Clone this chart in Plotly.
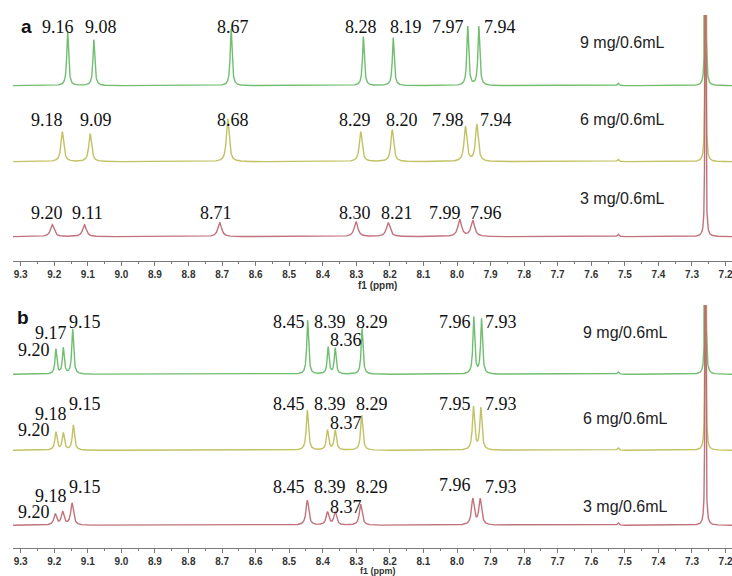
import numpy as np
import plotly.graph_objects as go

# ---------------- data ----------------
# Panel a : peak shifts (ppm) and peak heights (arbitrary units) for each concentration
A_9_shift = [9.160, 9.082, 8.673, 8.279, 8.190, 7.968, 7.935]
A_9_height = [54, 46, 57, 49, 48, 59, 59]
A_6_shift = [9.176, 9.093, 8.683, 8.287, 8.193, 7.975, 7.941]
A_6_height = [30, 28, 43, 30, 32, 35, 37]
A_3_shift = [9.206, 9.110, 8.707, 8.301, 8.205, 7.992, 7.953]
A_3_height = [12, 12, 14, 15, 14, 17, 16]

A_9_labels = ["9.16", "9.08", "8.67", "8.28", "8.19", "7.97", "7.94"]
A_6_labels = ["9.18", "9.09", "8.68", "8.29", "8.20", "7.98", "7.94"]
A_3_labels = ["9.20", "9.11", "8.71", "8.30", "8.21", "7.99", "7.96"]

# Panel b
B_9_shift = [9.195, 9.173, 9.145, 8.445, 8.384, 8.363, 8.283, 7.950, 7.927]
B_9_height = [25, 26, 45, 54, 27, 26, 46, 57, 55]
B_6_shift = [9.195, 9.173, 9.143, 8.446, 8.386, 8.363, 8.284, 7.951, 7.929]
B_6_height = [18, 17, 25, 40, 20, 20, 35, 43, 42]
B_3_shift = [9.197, 9.175, 9.147, 8.446, 8.386, 8.363, 8.287, 7.953, 7.931]
B_3_height = [11, 13, 22, 25, 13, 13, 21, 26, 26]

B_9_labels = ["9.20", "9.17", "9.15", "8.45", "8.39", "8.36", "8.29", "7.96", "7.93"]
B_6_labels = ["9.20", "9.18", "9.15", "8.45", "8.39", "8.37", "8.29", "7.95", "7.93"]
B_3_labels = ["9.20", "9.18", "9.15", "8.45", "8.39", "8.37", "8.29", "7.96", "7.93"]

# common small signals: impurity at 7.52 and solvent (CDCl3) at 7.26
extra_shift = [7.52, 7.26]
extra_height = [2.5, 1500]

concentrations = ["9 mg/0.6mL", "6 mg/0.6mL", "3 mg/0.6mL"]

# ---------------- styling / layout constants ----------------
colors = ["#62b862", "#bcbc55", "#bb6470"]
offsets_a = [175, 99, 24]
offsets_b = [174, 98, 23]
hwhm_a = [0.0032, 0.0048, 0.0065]
hwhm_b = [0.0032, 0.0038, 0.0048]
solvent_hwhm = 0.0006

X_RANGE = [9.3229, 7.1808]
grid = np.arange(X_RANGE[1], X_RANGE[0], 0.00025)
grid = np.sort(np.concatenate([grid, extra_shift]))[::-1]


def spectrum(shifts, heights, w, offset):
    y = np.full_like(grid, float(offset))
    for s, h in zip(shifts, heights):
        y += h * w * w / ((grid - s) ** 2 + w * w)
    y += extra_height[0] * 0.003 ** 2 / ((grid - extra_shift[0]) ** 2 + 0.003 ** 2)
    y += extra_height[1] * solvent_hwhm ** 2 / ((grid - extra_shift[1]) ** 2 + solvent_hwhm ** 2)
    return y


fig = go.Figure()

panel_a = [(A_9_shift, A_9_height), (A_6_shift, A_6_height), (A_3_shift, A_3_height)]
panel_b = [(B_9_shift, B_9_height), (B_6_shift, B_6_height), (B_3_shift, B_3_height)]

for i, (s, h) in enumerate(panel_a):
    fig.add_trace(go.Scatter(x=grid, y=spectrum(s, h, hwhm_a[i], offsets_a[i]), mode="lines",
                             line=dict(color=colors[i], width=1.4), xaxis="x", yaxis="y",
                             opacity=0.9, showlegend=False, hoverinfo="skip"))
for i, (s, h) in enumerate(panel_b):
    fig.add_trace(go.Scatter(x=grid, y=spectrum(s, h, hwhm_b[i], offsets_b[i]), mode="lines",
                             line=dict(color=colors[i], width=1.4), xaxis="x2", yaxis="y2",
                             opacity=0.9, showlegend=False, hoverinfo="skip"))

serif = dict(family="Liberation Serif, Times New Roman, serif", size=18, color="#111")
sans = dict(family="Liberation Sans, Arial, sans-serif", size=16, color="#222")

annotations = []


def add_labels(labels, xs, ys, xref, yref):
    for t, x, y in zip(labels, xs, ys):
        annotations.append(dict(text=t, x=x, y=y, xref=xref, yref=yref, showarrow=False,
                                font=serif, xanchor="center", yanchor="middle"))


# label positions (ppm, y units) for panel a
add_labels(A_9_labels, [9.189, 9.061, 8.667, 8.286, 8.152, 8.027, 7.872], [234] * 7, "x", "y")
add_labels(A_6_labels, [9.222, 9.077, 8.667, 8.304, 8.164, 8.027, 7.884], [141] * 7, "x", "y")
add_labels(A_3_labels, [9.222, 9.102, 8.718, 8.304, 8.179, 8.036, 7.914], [47.5] * 7, "x", "y")

# panel b
bx = [9.260, 9.210, 9.108, 8.500, 8.378, 8.331, 8.253, 8.006, 7.869]
add_labels(B_9_labels, bx, [198.3, 215, 226, 226.3, 226.3, 208.3, 226.3, 226.3, 226.3], "x2", "y2")
add_labels(B_6_labels, bx, [118.5, 134, 144, 144, 144, 125, 144, 144.5, 144], "x2", "y2")
add_labels(B_3_labels, bx, [36.6, 52.3, 61.6, 61.6, 61.6, 41.6, 61.3, 63.3, 61.3], "x2", "y2")

for txt, y in zip(concentrations, [218, 140.7, 62.4]):
    annotations.append(dict(text=txt, x=7.508, y=y, xref="x", yref="y", showarrow=False,
                            font=sans, xanchor="center", yanchor="middle"))
for txt, y in zip(concentrations, [215.6, 130, 41.6]):
    annotations.append(dict(text=txt, x=7.498, y=y, xref="x2", yref="y2", showarrow=False,
                            font=sans, xanchor="center", yanchor="middle"))

# panel letters
annotations.append(dict(text="<b>a</b>", x=0.019, y=0.9536, xref="paper", yref="paper", showarrow=False,
                        font=dict(family="Liberation Sans, Arial", size=19, color="#111"),
                        xanchor="center", yanchor="middle"))
annotations.append(dict(text="<b>b</b>", x=0.0139, y=0.448, xref="paper", yref="paper", showarrow=False,
                        font=dict(family="Liberation Sans, Arial", size=19, color="#111"),
                        xanchor="center", yanchor="middle"))
# axis titles
for y, sz in [(1 - 285.5 / 576, 10), (1 - 570.5 / 576, 9)]:
    annotations.append(dict(text="<b>f1 (ppm)</b>", x=(378 - 13) / 719, y=y, xref="paper", yref="paper",
                            showarrow=False, font=dict(family="Liberation Sans, Arial", size=sz, color="#333"),
                            xanchor="center", yanchor="middle"))

xaxis_style = dict(range=X_RANGE, showline=True, linecolor="#7a7a7a", linewidth=1,
                   ticks="outside", ticklen=4, tickcolor="#7a7a7a", tickwidth=1,
                   tick0=9.3, dtick=0.1, tickformat=".1f",
                   tickfont=dict(family="Liberation Sans, Arial", size=10, color="#333", weight="bold"),
                   minor=dict(ticks="outside", dtick=0.05, tick0=9.3, ticklen=2, tickcolor="#7a7a7a"),
                   showgrid=False, zeroline=False, automargin=False, ticklabeloverflow="allow",
                   domain=[0, 1])

fig.update_layout(
    width=732, height=576,
    margin=dict(l=13, r=0, t=0, b=0),
    paper_bgcolor="white", plot_bgcolor="white",
    xaxis=dict(anchor="y", **xaxis_style),
    xaxis2=dict(anchor="y2", **xaxis_style),
    yaxis=dict(domain=[1 - 260.7 / 576, 1 - 15 / 576], range=[0, 245.7], visible=False),
    yaxis2=dict(domain=[1 - 548.3 / 576, 1 - 305 / 576], range=[0, 243.3], visible=False),
    annotations=annotations,
    showlegend=False,
)

fig.write_html("out.html")
